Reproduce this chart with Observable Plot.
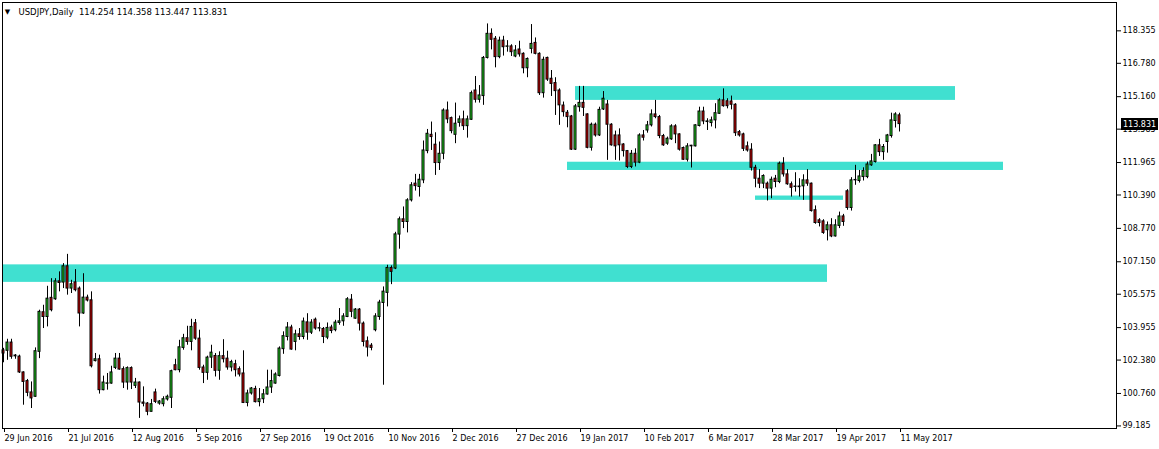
<!DOCTYPE html>
<html>
<head>
<meta charset="utf-8">
<script src="https://cdn.jsdelivr.net/npm/d3@7"></script>
<script src="https://cdn.jsdelivr.net/npm/@observablehq/plot@0.6"></script>
<style>
  html, body { margin: 0; padding: 0; background: #ffffff; }
  #chart svg { display: block; }
</style>
</head>
<body>
<div id="chart"></div>
<script>
// ---- Data (USDJPY daily, bar index 0 = 29 Jun 2016 ... 224 = 11 May 2017) ----
const symbol = "USDJPY";
const period = "Daily";

const opens = [
102.85,102.83,103.23,102.56,102.55,101.78,101.36,100.81,100.60,102.78,
104.70,104.47,105.40,105.33,106.20,106.14,106.93,105.85,106.15,105.85,
104.64,105.41,105.28,102.33,102.42,100.92,101.23,101.24,102.00,102.45,
101.94,101.29,101.99,101.13,101.29,100.32,100.27,99.87,100.81,100.27,
100.24,100.47,100.55,102.13,101.89,102.97,103.44,103.26,104.17,103.42,
102.02,101.76,102.50,102.58,101.86,102.57,102.45,102.02,102.18,101.94,
101.73,100.30,100.76,100.98,100.34,100.48,100.71,101.05,101.24,101.61,
102.91,103.50,103.96,103.26,103.63,103.50,104.21,103.71,104.34,103.91,
103.89,103.47,103.96,103.83,104.18,104.26,104.47,105.31,104.39,104.83,
104.15,103.29,103.08,103.83,104.47,105.15,105.64,106.85,106.82,108.47,
109.21,109.08,110.13,110.94,110.78,111.10,112.52,113.31,112.83,111.94,
112.39,114.49,114.12,113.31,113.89,114.06,113.73,114.04,115.46,115.01,
115.19,117.04,118.21,117.97,117.08,117.88,117.58,117.60,117.11,117.45,
117.24,116.54,117.48,117.77,117.24,115.33,117.04,116.03,115.82,115.46,
114.73,114.38,114.20,112.59,114.65,114.86,114.30,112.68,113.80,113.28,
114.54,114.78,113.80,113.28,113.28,112.84,112.52,111.75,112.39,111.96,
113.28,113.52,113.77,114.30,114.17,113.25,112.88,113.09,113.72,113.33,
112.67,112.10,112.75,112.75,113.74,114.44,113.93,113.88,114.01,114.33,
114.98,114.94,114.93,114.77,113.44,113.33,112.75,112.59,111.71,111.18,
110.94,110.94,110.70,111.18,111.02,111.91,111.39,110.91,110.78,110.80,
110.81,111.10,110.94,109.65,109.16,109.11,108.68,108.92,108.38,108.89,
109.35,110.57,109.76,111.10,111.07,111.26,111.26,111.83,111.99,112.80,
112.47,112.96,113.25,113.98,114.254
];
const highs = [
102.95,103.39,103.39,102.65,102.62,101.81,101.44,101.32,102.97,104.80,
105.04,105.96,106.33,106.33,106.66,107.06,107.51,106.25,106.77,105.93,
106.57,105.53,105.69,102.70,102.62,101.60,101.73,102.08,102.70,102.70,
102.05,102.05,102.05,101.49,101.32,101.08,100.32,100.47,100.97,100.42,
100.60,100.68,101.89,102.42,103.34,103.63,104.02,104.36,104.35,103.83,
102.13,102.57,103.10,102.70,102.78,103.37,102.81,102.37,102.37,102.05,
102.83,100.92,101.05,101.11,101.00,100.95,101.89,101.89,101.76,103.02,
103.75,104.20,104.07,103.83,103.91,104.42,104.63,104.34,104.42,104.18,
103.96,104.18,104.07,104.31,104.88,104.63,105.41,105.56,104.88,104.88,
104.23,103.50,103.18,104.63,105.28,105.93,106.98,106.95,108.58,109.32,
109.81,110.21,110.99,111.39,111.39,113.01,113.57,113.93,113.41,112.96,
114.57,114.90,114.17,114.85,114.22,114.46,114.22,115.43,116.14,115.70,
117.11,118.69,118.45,118.08,118.05,118.09,117.88,117.68,117.64,117.85,
117.29,117.04,118.66,118.01,117.29,117.08,117.08,116.43,116.08,115.54,
114.90,114.49,114.25,114.78,115.66,115.66,114.33,113.88,113.88,114.65,
115.41,114.98,113.85,113.49,113.60,112.88,112.55,112.55,112.63,113.36,
113.52,113.96,114.52,114.98,114.25,113.33,113.20,113.80,113.80,113.36,
112.72,112.88,112.80,113.80,114.65,114.65,114.09,114.17,114.82,115.06,
115.54,115.06,115.19,114.82,113.52,113.39,112.96,112.88,111.83,111.62,
111.37,111.02,111.26,111.34,111.99,112.20,111.62,111.02,111.47,111.18,
111.37,111.62,110.97,109.86,109.24,109.19,109.08,109.24,109.19,109.56,
109.45,110.65,111.23,111.83,111.58,111.71,111.99,112.36,112.84,113.09,
112.84,113.33,114.36,114.38,114.358
];
const lows = [
102.25,102.37,102.42,102.42,101.73,100.19,100.60,100.03,100.57,102.45,
103.91,103.99,104.72,105.28,105.69,105.85,105.53,105.61,105.69,103.99,
104.60,105.20,102.00,102.29,100.73,100.89,100.92,101.21,101.92,101.89,
101.00,100.92,100.95,101.00,99.55,100.11,99.68,99.86,100.27,100.19,
100.11,100.39,100.03,101.86,101.76,102.86,103.10,102.83,103.34,101.89,
101.24,101.40,101.97,101.56,101.40,102.24,101.89,101.81,101.56,101.56,
100.27,100.11,100.68,100.30,100.11,100.27,100.68,100.76,101.21,101.56,
102.66,103.31,102.86,102.83,103.34,103.37,103.34,103.62,103.83,103.75,
103.18,103.37,103.66,103.75,104.07,104.02,104.44,104.44,104.36,103.79,
103.02,102.53,102.83,103.75,104.31,101.16,104.96,106.04,106.77,107.76,
108.76,108.55,110.05,110.58,110.29,110.94,112.39,112.55,111.34,111.58,
112.10,113.85,113.36,112.88,113.68,113.52,113.15,114.01,114.85,114.85,
114.74,116.99,117.43,116.56,117.00,117.13,117.32,117.11,117.05,117.08,
116.27,116.08,117.24,117.19,115.22,115.09,115.90,115.17,114.25,113.77,
114.17,113.65,112.55,112.55,114.41,114.20,112.63,112.52,113.20,113.23,
114.49,112.07,112.76,112.07,112.04,112.23,111.67,111.67,111.75,111.91,
113.01,113.39,113.69,114.09,113.12,112.75,112.80,113.04,112.88,112.52,
112.07,111.99,111.70,112.72,113.69,113.80,113.52,113.69,113.60,114.30,
114.65,114.57,114.52,113.23,113.20,112.50,112.47,111.55,110.74,110.70,
110.70,110.10,110.21,110.74,110.94,111.26,110.86,110.29,110.53,110.29,
110.13,110.81,109.56,108.97,108.84,108.48,108.16,108.32,108.35,108.76,
108.87,109.65,109.61,110.86,110.97,111.07,111.18,111.78,111.94,112.26,
112.07,112.42,113.15,113.64,113.447
];
const closes = [
102.70,103.23,102.54,102.60,101.78,101.32,100.79,100.52,102.81,104.72,
104.47,105.36,104.80,106.20,106.12,106.93,105.85,106.06,105.77,104.64,
105.41,105.27,102.08,102.42,100.92,101.29,101.25,101.78,102.45,101.92,
101.29,101.99,101.29,101.29,100.32,100.26,99.87,100.24,100.35,100.37,
100.48,100.60,101.84,101.89,103.00,103.44,103.26,103.99,103.42,102.00,
101.76,102.50,102.74,101.86,102.57,102.42,102.02,102.28,101.89,101.68,
100.30,100.76,101.00,100.34,100.48,100.72,101.05,101.36,101.68,102.94,
103.54,103.96,102.89,103.63,103.50,104.25,103.71,104.20,103.91,103.93,
103.50,103.94,103.79,104.20,104.26,104.50,105.33,104.72,104.83,104.15,
103.26,102.99,102.97,104.50,105.17,105.70,106.85,106.66,108.48,109.21,
109.08,110.13,110.86,110.82,111.13,112.55,113.36,113.20,111.94,112.39,
114.49,114.06,113.49,113.85,114.06,113.73,114.06,115.33,115.01,115.22,
117.04,118.21,117.92,117.08,117.88,117.56,117.60,117.32,117.40,117.21,
116.54,116.99,117.72,117.24,115.33,116.95,115.99,115.78,115.43,114.74,
114.41,114.17,112.59,114.69,114.86,114.62,112.68,113.80,113.28,114.52,
115.06,113.80,112.80,112.75,112.80,112.52,111.75,112.39,111.96,113.28,
113.17,113.77,114.30,114.17,113.25,112.80,113.12,113.72,113.33,112.59,
112.10,112.75,112.78,113.77,114.44,113.96,113.96,114.01,114.36,114.98,
114.70,114.70,114.77,113.39,113.28,112.63,112.55,111.71,111.18,110.94,
111.31,110.70,111.13,111.02,111.91,111.39,110.91,110.74,110.80,110.77,
111.10,110.94,109.61,109.03,109.03,108.55,108.92,108.38,108.92,109.35,
109.08,109.76,111.10,111.12,111.29,111.55,111.87,112.02,112.80,112.47,
112.72,113.28,114.01,114.30,113.831
];

// Support / resistance zones (bar index span and price band)
const zoneStart  = [-0.25, 143, 141, 188];
const zoneEnd    = [206, 238, 250, 210];
const zoneTop    = [107.00, 115.65, 111.98, 110.34];
const zoneBottom = [106.15, 114.98, 111.58, 110.13];

// Axis ticks
const xTickIndex  = [0, 16, 32, 48, 64, 80, 96, 112, 128, 144, 160, 176, 192, 208, 224];
const xTickLabels = ["29 Jun 2016","21 Jul 2016","12 Aug 2016","5 Sep 2016","27 Sep 2016",
  "19 Oct 2016","10 Nov 2016","2 Dec 2016","27 Dec 2016","19 Jan 2017","10 Feb 2017",
  "6 Mar 2017","28 Mar 2017","19 Apr 2017","11 May 2017"];
const yTicks = [118.355, 116.780, 115.160, 113.585, 111.965, 110.390, 108.770,
  107.150, 105.575, 103.955, 102.380, 100.760, 99.185];

// ---- Build tables ----
const bars = opens.map((o, i) => ({i, o, h: highs[i], l: lows[i], c: closes[i]}));
const zones = zoneStart.map((s, k) => ({x1: s, x2: zoneEnd[k], y1: zoneBottom[k], y2: zoneTop[k]}));
const last = bars[bars.length - 1];
const f3 = d3.format(".3f");
const titleText = `${symbol},${period}  ${f3(last.o)} ${f3(last.h)} ${f3(last.l)} ${f3(last.c)}`;

const W = 1159, H = 449;
const M = {top: 2, right: 43, bottom: 21, left: 2};
const bull = "#22dd22", bear = "#dd0000", zoneColor = "#40e0d0";

const chart = Plot.plot({
  width: W, height: H,
  marginTop: M.top, marginRight: M.right, marginBottom: M.bottom, marginLeft: M.left,
  x: {domain: [-0.25, 278.25]},
  y: {domain: [99.06, 119.73]},
  style: {fontFamily: "DejaVu Sans, sans-serif", fontSize: "8px", background: "#ffffff", color: "#000000", overflow: "visible"},
  marks: [
    Plot.rect(zones, {x1: "x1", x2: "x2", y1: "y1", y2: "y2", fill: zoneColor}),
    Plot.ruleX(bars, {x: "i", y1: "l", y2: "h", stroke: "#000000", strokeWidth: 1}),
    Plot.rect(bars, {
      x1: d => d.i - 0.25, x2: d => d.i + 0.25, y1: "o", y2: "c",
      fill: d => d.c >= d.o ? bull : bear, stroke: "#000000", strokeWidth: 1
    }),
    Plot.frame({stroke: "#000000"}),
    Plot.axisY(yTicks, {anchor: "right", tickSize: 4, tickPadding: 2, tickFormat: f3, label: null, fill: "#000000"}),
    Plot.axisX(xTickIndex, {anchor: "bottom", tickSize: 4, tickPadding: 3, textAnchor: "start", dx: 1,
      tickFormat: d => xTickLabels[xTickIndex.indexOf(d)], label: null, fill: "#000000"}),
    Plot.text([titleText], {frameAnchor: "top-left", dx: 16, dy: 6, textAnchor: "start", lineAnchor: "top", fontSize: 8.5, fill: "#000000"}),
    Plot.text(["\u25BC"], {frameAnchor: "top-left", dx: 5, dy: 7, textAnchor: "middle", lineAnchor: "top", fontSize: 7, fill: "#000000"})
  ]
});

// Current price label on the right price axis
const yLast = chart.scale("y").apply(last.c);
const svg = d3.select(chart);
const gx = W - M.right + 5;
const lab = svg.append("g");
lab.append("rect").attr("x", gx).attr("y", Math.round(yLast) - 6).attr("width", 37).attr("height", 12).attr("fill", "#000000");
lab.append("text").attr("x", gx + 2).attr("y", Math.round(yLast) + 3)
  .attr("text-anchor", "start")
  .attr("fill", "#ffffff").attr("font-family", "DejaVu Sans, sans-serif").attr("font-size", 8)
  .text(f3(last.c));

document.getElementById("chart").append(chart);
</script>
</body>
</html>
